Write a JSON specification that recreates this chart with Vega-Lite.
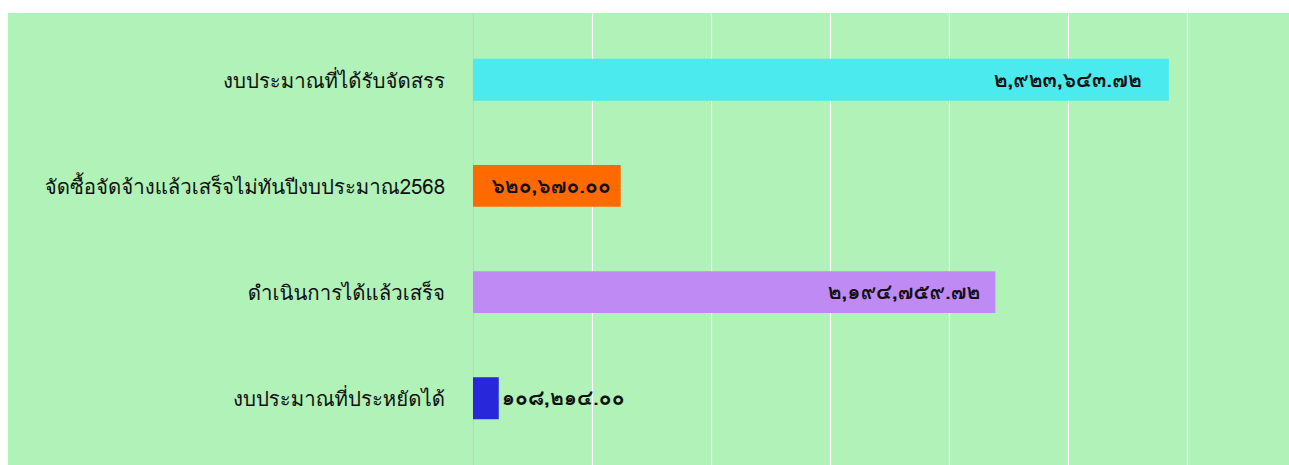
{
  "$schema": "https://vega.github.io/schema/vega-lite/v6.json",
  "background": "white",
  "padding": {"left": 8, "top": 13, "right": 0, "bottom": 0},
  "config": {
    "view": {"stroke": null, "fill": "#b0f2b8"},
    "concat": {"spacing": 0},
    "font": "Tahoma, Loma, Garuda, Noto Sans Thai, Noto Sans, sans-serif"
  },
  "data": {
    "values": [
      {"cat": "งบประมาณที่ได้รับจัดสรร", "value": 2923643.72, "label": "๒,๙๒๓,๖๔๓.๗๒"},
      {"cat": "จัดซื้อจัดจ้างแล้วเสร็จไม่ทันปีงบประมาณ2568", "value": 620670.00, "label": "๖๒๐,๖๗๐.๐๐"},
      {"cat": "ดำเนินการได้แล้วเสร็จ", "value": 2194759.72, "label": "๒,๑๙๔,๗๕๙.๗๒"},
      {"cat": "งบประมาณที่ประหยัดได้", "value": 108214.00, "label": "๑๐๘,๒๑๔.๐๐"}
    ]
  },
  "hconcat": [
    {
      "width": 465,
      "height": 452,
      "mark": {"type": "text", "align": "right", "baseline": "middle", "dx": -28, "dy": 2, "fontSize": 20.4, "color": "#111111"},
      "encoding": {
        "y": {"field": "cat", "type": "nominal", "sort": null, "axis": null,
              "scale": {"type": "band", "paddingInner": 0.605, "paddingOuter": 0.43}},
        "x": {"datum": 1, "type": "quantitative", "scale": {"domain": [0, 1]}, "axis": null},
        "text": {"field": "cat"}
      }
    },
    {
      "width": 816,
      "height": 452,
      "encoding": {
        "y": {"field": "cat", "type": "nominal", "sort": null, "axis": null,
              "scale": {"type": "band", "paddingInner": 0.605, "paddingOuter": 0.43}}
      },
      "layer": [
        {
          "mark": {"type": "bar"},
          "encoding": {
            "x": {"field": "value", "type": "quantitative",
                  "scale": {"domain": [0, 3428571], "nice": false, "zero": true},
                  "axis": {"values": [0, 500000, 1000000, 1500000, 2000000, 2500000, 3000000],
                           "labels": false, "ticks": false, "domain": false, "title": null,
                           "grid": true, "gridWidth": 1.2,
                           "gridColor": {"condition": {"test": "datum.value === 0", "value": "#c8cfc8"}, "value": "#ffffff"}}},
            "color": {"field": "cat", "type": "nominal", "legend": null,
                      "scale": {"domain": ["งบประมาณที่ได้รับจัดสรร", "จัดซื้อจัดจ้างแล้วเสร็จไม่ทันปีงบประมาณ2568", "ดำเนินการได้แล้วเสร็จ", "งบประมาณที่ประหยัดได้"],
                                "range": ["#4aeaee", "#ff6a00", "#c08af5", "#2828da"]}}
          }
        },
        {
          "transform": [{"filter": "datum.value > 2500000"}],
          "mark": {"type": "text", "align": "right", "baseline": "middle", "dx": -27, "dy": 1, "fontSize": 21, "fontWeight": "bold", "color": "#111111"},
          "encoding": {
            "x": {"field": "value", "type": "quantitative"},
            "text": {"field": "label"}
          }
        },
        {
          "transform": [{"filter": "datum.value > 1000000 && datum.value <= 2500000"}],
          "mark": {"type": "text", "align": "right", "baseline": "middle", "dx": -15, "dy": 1, "fontSize": 21, "fontWeight": "bold", "color": "#111111"},
          "encoding": {
            "x": {"field": "value", "type": "quantitative"},
            "text": {"field": "label"}
          }
        },
        {
          "transform": [{"filter": "datum.value > 300000 && datum.value <= 1000000"}],
          "mark": {"type": "text", "align": "right", "baseline": "middle", "dx": -10, "dy": 1, "fontSize": 21, "fontWeight": "bold", "color": "#111111"},
          "encoding": {
            "x": {"field": "value", "type": "quantitative"},
            "text": {"field": "label"}
          }
        },
        {
          "transform": [{"filter": "datum.value <= 300000"}],
          "mark": {"type": "text", "align": "left", "baseline": "middle", "dx": 3, "dy": 1, "fontSize": 21, "fontWeight": "bold", "color": "#111111"},
          "encoding": {
            "x": {"field": "value", "type": "quantitative"},
            "text": {"field": "label"}
          }
        }
      ]
    }
  ]
}
